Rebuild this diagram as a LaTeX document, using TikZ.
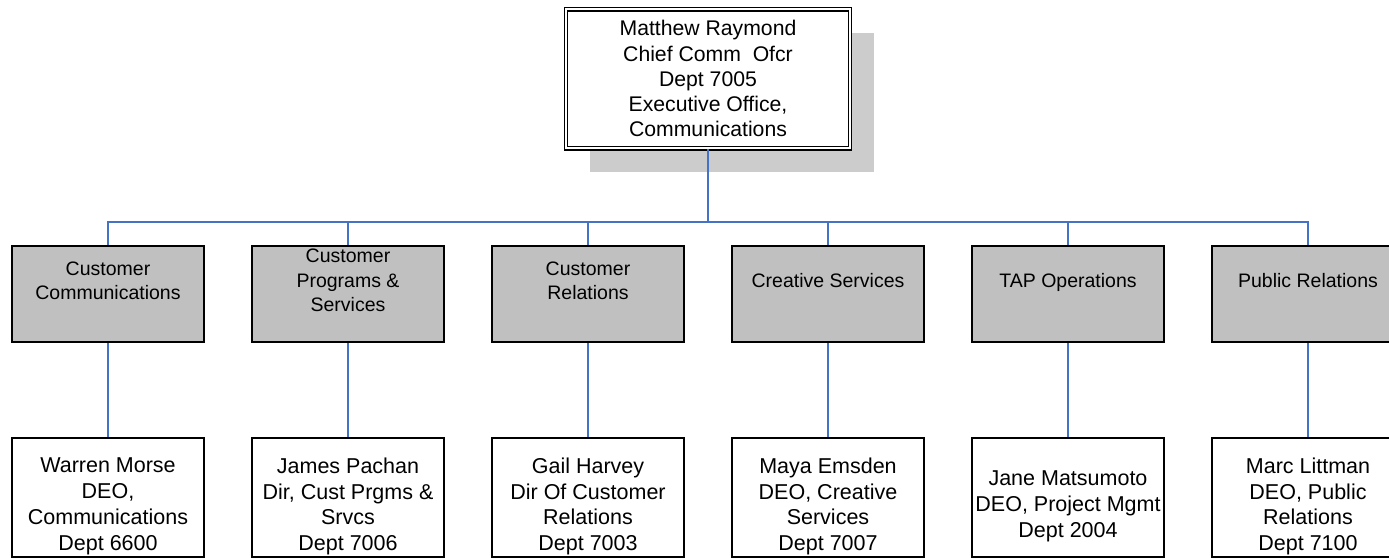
\documentclass[tikz,border=0pt]{standalone}
\usepackage{fontspec}
\setmainfont{Liberation Sans}
\usetikzlibrary{shadows}
\definecolor{linkblue}{RGB}{68,114,196}
\definecolor{unitgray}{RGB}{192,192,192}
\definecolor{shadowgray}{RGB}{204,204,204}
\begin{document}
\begin{tikzpicture}[
  x=1pt,
  y=-1pt,
  every node/.style={align=center, inner sep=0pt},
  chiefbox/.style={draw=black, fill=white, line width=1.4pt, double=white, double distance=2pt,
    minimum width=284pt, minimum height=139pt, font=\fontsize{21.2}{25.3}\selectfont,
    drop shadow={shadow xshift=24pt, shadow yshift=-24pt, fill=shadowgray, opacity=1}},
  unitbox/.style={draw=black, fill=unitgray, line width=1.5pt, text depth=27pt,
    minimum width=192pt, minimum height=96pt, font=\fontsize{19.5}{24.5}\selectfont},
  headbox/.style={draw=black, fill=white, line width=1.5pt,
    minimum width=192pt, minimum height=119pt},
  headtext/.style={yshift=-9pt, font=\fontsize{21.5}{25.8}\selectfont},
  link/.style={draw=linkblue, line width=1.6pt}
]
  \useasboundingbox (0,0) rectangle (1389,558);
  \clip (0,0) rectangle (1389,558);

  \node[chiefbox] (chief) at (708,78.75)
    {Matthew Raymond\\Chief Comm~ Ofcr\\Dept 7005\\Executive Office,\\Communications};

  % units
  \foreach \n/\x/\txt in {
      1/108/{Customer\\Communications},
      2/348/{Customer\\Programs \&\\Services},
      3/588/{Customer\\Relations},
      4/828/{Creative Services},
      5/1068/{TAP Operations},
      6/1308/{Public Relations}} {
    \node[unitbox] (unit\n) at (\x,294) {\txt};
  }

  % heads
  \foreach \n/\x/\txt in {
      1/108/{Warren Morse\\DEO,\\Communications\\Dept 6600},
      2/348/{James Pachan\\Dir, Cust Prgms \&\\Srvcs\\Dept 7006},
      3/588/{Gail Harvey\\Dir Of Customer\\Relations\\Dept 7003},
      4/828/{Maya Emsden\\DEO, Creative\\Services\\Dept 7007},
      5/1068/{Jane Matsumoto\\DEO, Project Mgmt\\Dept 2004},
      6/1308/{Marc Littman\\DEO, Public\\Relations\\Dept 7100}} {
    \node[headbox, label={[headtext]center:{\txt}}] (head\n) at (\x,497.5) {};
  }

  \coordinate (bus) at (708,222);
  \draw[link] (chief.south) -- (bus);
  \foreach \n in {1,...,6} {
    \draw[link] (bus) -| (unit\n.north);
    \draw[link] (unit\n.south) -- (head\n.north);
  }
\end{tikzpicture}
\end{document}
